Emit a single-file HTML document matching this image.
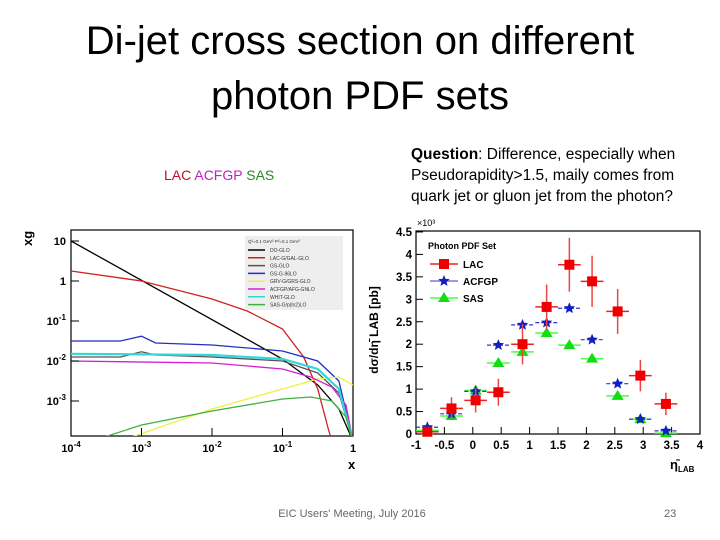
<!DOCTYPE html>
<html><head><meta charset="utf-8"><style>
body{margin:0;width:720px;height:540px;background:#fff;position:relative;overflow:hidden;font-family:"Liberation Sans",sans-serif}
.t{position:absolute;white-space:nowrap}
</style></head><body>
<div class="t" style="left:0;width:720px;top:14px;text-align:center;font-size:40px;line-height:55px;color:#000">Di-jet cross section on different<br>photon PDF sets</div>
<div class="t" style="left:164px;top:167px;font-size:14px"><span style="color:#c0102a">LAC</span> <span style="color:#c020c0">ACFGP</span> <span style="color:#2a8a2a">SAS</span></div>
<div class="t" style="left:411px;top:144px;font-size:15.5px;line-height:21px;color:#000"><b>Question</b>: Difference, especially when<br>Pseudorapidity&gt;1.5, maily comes from<br>quark jet or gluon jet from the photon?</div>
<div class="t" style="left:0;width:704px;top:508px;text-align:center;font-size:11px;color:#666">EIC Users' Meeting, July 2016</div>
<div class="t" style="left:664px;top:508px;font-size:11px;color:#666">23</div>
<svg id="L" width="720" height="540" style="position:absolute;left:0;top:0" font-family="Liberation Sans, sans-serif"></svg>
<script>
const pdfNames=["DO-GLO","LAC-G/GAL-GLO","GS-GLO","GS-G-96LO","GRV-G/GRS-GLO","ACFGP/AFG-GNLO","WHIT-GLO","SAS-G/p(ln2)LO"];
const pdfColors=["#000","#d02020","#555","#2030c0","#f0f040","#d020d0","#30d8d8","#40b040"];
const curveDO=[[-4,1.0],[-1,-1.95],[-0.5,-2.6],[-0.2,-3.2],[0,-4]];
const curveLAC=[[-4,0.25],[-3,0],[-2,-0.45],[-1.5,-0.75],[-1,-1.2],[-0.7,-1.9],[-0.5,-2.7],[-0.35,-3.7],[-0.3,-4]];
const curveGS=[[-4,-1.9],[-3.3,-1.9],[-3,-1.77],[-2.8,-1.85],[-2,-1.9],[-1,-2.0],[-0.5,-2.3],[-0.2,-2.8],[0,-4]];
const curveGS96=[[-4,-1.5],[-3.3,-1.5],[-3,-1.38],[-2.8,-1.55],[-2,-1.6],[-1,-1.75],[-0.5,-2.0],[-0.2,-2.5],[0,-4]];
const curveGRV=[[-3.3,-4],[-2,-3.2],[-1,-2.7],[-0.5,-2.45],[-0.2,-2.4],[0,-2.6]];
const curveACFGP=[[-4,-2.0],[-2,-2.05],[-1,-2.2],[-0.6,-2.4],[-0.3,-2.65],[-0.1,-3.1],[0,-4]];
const curveWHIT=[[-4,-1.82],[-2,-1.85],[-1,-1.95],[-0.5,-2.2],[-0.2,-2.7],[0,-4]];
const curveSAS=[[-3.7,-4],[-3,-3.6],[-2,-3.25],[-1,-2.95],[-0.6,-2.9],[-0.3,-3.0],[-0.1,-3.4],[0,-4]];
const curves=[curveDO,curveLAC,curveGS,curveGS96,curveGRV,curveACFGP,curveWHIT,curveSAS];
const xTicksL=[-4,-3,-2,-1,0];
const yTicksL=[1,0,-1,-2,-3];

const cats=[-0.8,-0.375,0.05,0.45,0.875,1.3,1.7,2.1,2.55,2.95,3.4];
const lacVals=[0.05,0.57,0.75,0.93,2.0,2.83,3.77,3.4,2.73,1.3,0.67];
const lacErr=[0.05,0.25,0.27,0.3,0.45,0.5,0.6,0.57,0.5,0.35,0.25];
const acfVals=[0.15,0.45,0.95,1.98,2.43,2.48,2.8,2.1,1.12,0.33,0.07];
const sasVals=[0.08,0.4,0.97,1.58,1.83,2.25,1.98,1.68,0.85,0.33,0.02];
const xTicksR=[-1,-0.5,0,0.5,1,1.5,2,2.5,3,3.5,4];
const yTicksR=[0,0.5,1,1.5,2,2.5,3,3.5,4,4.5];

const S=document.getElementById('L');const NS='http://www.w3.org/2000/svg';
function mk(t,a,p){const e=document.createElementNS(NS,t);for(const k in a)e.setAttribute(k,a[k]);(p||S).appendChild(e);return e;}
const lx=v=>71+(v+4)*70.5, ly=v=>241+(1-v)*40;
const defs=mk('defs',{});const cp=mk('clipPath',{id:'cl'},defs);mk('rect',{x:71,y:230,width:282,height:206},cp);
const lf=mk('rect',{x:71,y:230,width:282,height:206,fill:'#fff',stroke:'#000','stroke-width':1.2});

const g=mk('g',{'clip-path':'url(#cl)'});
curves.forEach((c,i)=>{const p=mk('polyline',{points:c.map(q=>lx(q[0])+','+ly(q[1])).join(' '),fill:'none',stroke:pdfColors[i],'stroke-width':i==6?2.2:1.3},g);
});
xTicksL.forEach(v=>{mk('line',{x1:lx(v),x2:lx(v),y1:436,y2:428,stroke:'#000'});const t=mk('text',{x:lx(v),y:452,'text-anchor':'middle','font-size':11,'font-weight':'bold'});t.textContent=v==0?'1':'10';if(v){const s=mk('tspan',{dy:-5,'font-size':8},t);s.textContent=v;}
});
yTicksL.forEach(v=>{mk('line',{x1:71,x2:79,y1:ly(v),y2:ly(v),stroke:'#000'});const t=mk('text',{x:66,y:ly(v)+4,'text-anchor':'end','font-size':11,'font-weight':'bold'});
if(v==1)t.textContent='10';else if(v==0)t.textContent='1';else{t.textContent='10';const s=mk('tspan',{dy:-5,'font-size':8},t);s.textContent=v;}
});
let t=mk('text',{x:348,y:469,'font-size':13,'font-weight':'bold'});t.textContent='x';
t=mk('text',{x:0,y:0,'font-size':13,'font-weight':'bold',transform:'translate(32,246) rotate(-90)'});t.textContent='xg';
const lg=mk('g',{});
mk('rect',{x:245,y:236,width:98,height:74,fill:'#eee'},lg);
mk('text',{x:248,y:243,'font-size':4.5,fill:'#333'},lg).textContent='Q²=0.1 GeV²  P²=0.1 GeV²';
pdfNames.forEach((n,i)=>{const y=250+i*7.8;mk('line',{x1:248,x2:265,y1:y,y2:y,stroke:pdfColors[i],'stroke-width':1.5},lg);mk('text',{x:270,y:y+2,'font-size':5,fill:'#333'},lg).textContent=n;});
const rx=v=>416+(v+1)*56.8, ry=v=>434-v*44.9;
const rf=mk('rect',{x:416,y:231,width:284,height:203,fill:'#fff',stroke:'#000','stroke-width':1.2});

xTicksR.forEach(v=>{mk('line',{x1:rx(v),x2:rx(v),y1:434,y2:427,stroke:'#000'});const t=mk('text',{x:rx(v),y:449,'text-anchor':'middle','font-size':11.5,'font-weight':'bold'});t.textContent=v;});
yTicksR.forEach(v=>{mk('line',{x1:416,x2:423,y1:ry(v),y2:ry(v),stroke:'#000'});const t=mk('text',{x:412,y:ry(v)+4,'text-anchor':'end','font-size':11.5,'font-weight':'bold'});t.textContent=v;});
mk('text',{x:417,y:226,'font-size':9}).textContent='×10³';
t=mk('text',{x:0,y:0,'font-size':12,'font-weight':'bold',transform:'translate(378,330) rotate(-90)','text-anchor':'middle'});t.textContent='dσ/dη̄ LAB [pb]';
t=mk('text',{x:670,y:469,'font-size':13,'font-weight':'bold'});t.textContent='η̄';const ts=mk('tspan',{dy:3,'font-size':8},t);ts.textContent='LAB';
function star(cx,cy,r,c){let p=[];for(let i=0;i<10;i++){const a=-Math.PI/2+i*Math.PI/5,rr=i%2?r*0.45:r;p.push((cx+rr*Math.cos(a))+','+(cy+rr*Math.sin(a)));}return mk('polygon',{points:p.join(' '),fill:c});}
cats.forEach((c,i)=>{const x=rx(c),x0=rx(c-0.2),x1=rx(c+0.2);
let y=ry(sasVals[i]);mk('line',{x1:x0,x2:x1,y1:y,y2:y,stroke:'#4f4','stroke-width':1.5});
const s=mk('polygon',{points:`${x},${y-6} ${x-6},${y+4} ${x+6},${y+4}`,fill:'#1d1'});
y=ry(acfVals[i]);mk('line',{x1:x0,x2:x1,y1:y,y2:y,stroke:'#33c','stroke-width':1.2,'stroke-dasharray':'4,2'});
const a=star(x,y,6,'#1020c0');
y=ry(lacVals[i]);mk('line',{x1:x0,x2:x1,y1:y,y2:y,stroke:'#e22','stroke-width':1.5});
mk('line',{x1:x,x2:x,y1:ry(lacVals[i]+lacErr[i]),y2:ry(Math.max(0,lacVals[i]-lacErr[i])),stroke:'#e44','stroke-width':1.5});
const l=mk('rect',{x:x-5,y:y-5,width:10,height:10,fill:'#e00'});});
const rl=mk('g',{});
mk('text',{x:428,y:249,'font-size':9,'font-weight':'bold'},rl).textContent='Photon PDF Set';
mk('line',{x1:430,x2:458,y1:264,y2:264,stroke:'#e22','stroke-width':1.5},rl);mk('rect',{x:439,y:259,width:10,height:10,fill:'#e00'},rl);mk('text',{x:463,y:268,'font-size':10,'font-weight':'bold'},rl).textContent='LAC';
mk('line',{x1:430,x2:458,y1:281,y2:281,stroke:'#33c'},rl);rl.appendChild(star(444,281,6,'#1020c0'));mk('text',{x:463,y:285,'font-size':10,'font-weight':'bold'},rl).textContent='ACFGP';
mk('line',{x1:430,x2:458,y1:298,y2:298,stroke:'#4f4','stroke-width':1.5},rl);mk('polygon',{points:'444,292 438,302 450,302',fill:'#1d1'},rl);mk('text',{x:463,y:302,'font-size':10,'font-weight':'bold'},rl).textContent='SAS';
</script>
</body></html>
